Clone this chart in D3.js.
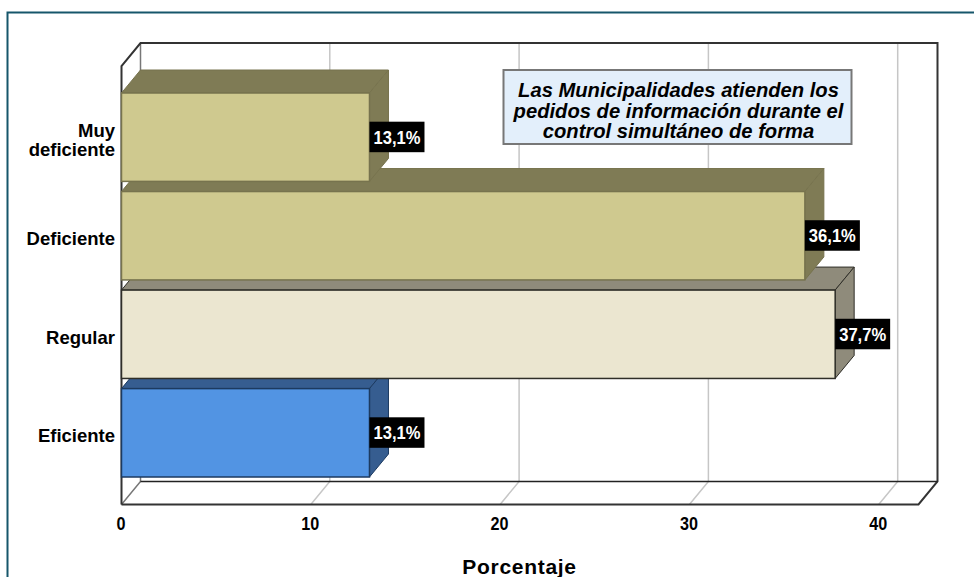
<!DOCTYPE html>
<html><head><meta charset="utf-8">
<script src="https://cdn.jsdelivr.net/npm/d3@7"></script>
<style>html,body{margin:0;padding:0;background:#fff}svg{display:block}text{font-family:"Liberation Sans",Arial,sans-serif}</style>
</head><body><svg id="c" width="974" height="577"></svg>
<script>
const categories = ["Muy deficiente","Deficiente","Regular","Eficiente"];
const categoryLines = [["Muy","deficiente"],["Deficiente"],["Regular"],["Eficiente"]];
const percentages = [13.1,36.1,37.7,13.1];
const frontColors = ["#cfc98f","#cfc98f","#ebe6d0","#5294e3"];
const shadeColors = ["#7f7b55","#7f7b55","#8f8b7b","#365d90"];
const edgeColors = ["#77734e","#77734e","#2f2e28","#1c3a60"];
const xTicks = [0,10,20,30,40];
const titleLines = ["Las Municipalidades atienden los","pedidos de información durante el","control simultáneo de forma"];
const axisTitle = "Porcentaje";

const svg = d3.select("#c");
const dx = 19, dy = -23;
const x = d3.scaleLinear().domain([0,40]).range([121.5,878.7]);
const y = d3.scaleBand().domain(categories).range([93,477]).paddingInner(0.103).paddingOuter(0);
const fx0 = x(0), fx1 = 918.5, fy0 = 66, fy1 = 504.5;
const poly = p => p.map(d=>d.join(",")).join(" ");

// frame
svg.append("path").attr("d","M7.5,577V12.5H974").attr("fill","none").attr("stroke","#16566b").attr("stroke-width",2);

// walls
const g = svg.append("g");
xTicks.forEach(t=>{
  if(t===0) return;
  g.append("path").attr("d",`M${x(t)},${fy1}l${dx},${dy}V${fy0+dy}`).attr("fill","none").attr("stroke","#c6c6c6").attr("stroke-width",1.5);
});
g.append("path").attr("d",`M${fx0},${fy1}l${dx},${dy}V${fy0+dy}`).attr("fill","none").attr("stroke","#777").attr("stroke-width",1.5);
g.append("path").attr("d",`M${fx0},${fy1}V${fy0}l${dx},${dy}H${fx1+dx}V${fy1+dy}l${-dx},${-dy}H${fx0}`).attr("fill","none").attr("stroke","#333").attr("stroke-width",2);
g.append("path").attr("d",`M${fx0+dx},${fy1+dy}H${fx1+dx}`).attr("stroke","#222").attr("stroke-width",1.5);

// bars, bottom category first so upper fronts overlap lower tops
const idx = d3.range(categories.length).reverse();
const bars = svg.append("g").selectAll("g").data(idx).join("g");
bars.each(function(i){
  const s = d3.select(this), c = categories[i];
  const x0=x(0), x1=x(percentages[i]), y0=y(c), y1=y0+y.bandwidth();
  const st = {stroke:edgeColors[i]};
  s.append("polygon").attr("points",poly([[x0,y0],[x0+dx,y0+dy],[x1+dx,y0+dy],[x1,y0]])).attr("fill",shadeColors[i]).attr("stroke",st.stroke);
  s.append("polygon").attr("points",poly([[x1,y0],[x1+dx,y0+dy],[x1+dx,y1+dy],[x1,y1]])).attr("fill",shadeColors[i]).attr("stroke",st.stroke);
  s.append("rect").attr("x",x0).attr("y",y0).attr("width",x1-x0).attr("height",y1-y0).attr("fill",frontColors[i]).attr("stroke",st.stroke).attr("stroke-width",1.5);
});

// value labels
percentages.forEach((v,i)=>{
  const cx = x(v)+27.5, cy = y(categories[i])+y.bandwidth()/2-0.5;
  svg.append("rect").attr("x",cx-27.5).attr("y",cy-15).attr("width",55).attr("height",30.5).attr("fill","#000");
  svg.append("text").attr("x",cx).attr("y",cy+7).attr("text-anchor","middle").attr("fill","#fff")
    .attr("font-size",19).attr("font-weight","bold").attr("textLength",47).attr("lengthAdjust","spacingAndGlyphs")
    .text(v.toFixed(1).replace(".",",")+"%");
});

// category labels
categoryLines.forEach((ls,i)=>{
  const cy = y(categories[i])+y.bandwidth()/2;
  ls.forEach((l,j)=>{
    svg.append("text").attr("x",115).attr("y",cy+9.3+(j-(ls.length-1)/2)*19.5).attr("text-anchor","end")
      .attr("font-size",18.5).attr("font-weight","bold").attr("fill","#000").text(l);
  });
});

// x ticks
xTicks.forEach(t=>{
  svg.append("text").attr("x",x(t)-0.5).attr("y",530).attr("text-anchor","middle").attr("font-size",18).attr("font-weight","bold").attr("fill","#000")
    .attr("textLength",String(t).length*9).attr("lengthAdjust","spacingAndGlyphs").text(t);
});
svg.append("text").attr("x",519.5).attr("y",574).attr("text-anchor","middle").attr("font-size",21).attr("font-weight","bold").attr("letter-spacing",0.7).attr("fill","#000").text(axisTitle);

// annotation
svg.append("rect").attr("x",503.5).attr("y",70).attr("width",348).attr("height",74).attr("fill","#e3effb").attr("stroke","#777").attr("stroke-width",2);
titleLines.forEach((l,i)=>{
  svg.append("text").attr("x",678.5).attr("y",96.7+i*20.8).attr("text-anchor","middle").attr("font-size",20.2).attr("font-weight","bold").attr("font-style","italic").attr("fill","#000").text(l);
});
</script></body></html>
